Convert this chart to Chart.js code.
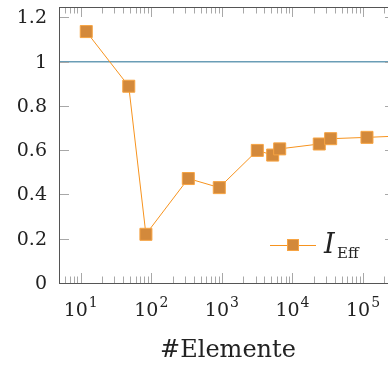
<!DOCTYPE html>
<html>
<head>
<meta charset="utf-8">
<script src="https://cdn.jsdelivr.net/npm/chart.js@4/dist/chart.umd.min.js"></script>
<style>
    html, body { margin: 0; padding: 0; background: #fff; overflow: hidden; }
    #wrap { width: 388px; height: 365px; }
</style>
</head>
<body>
<div id="wrap"><canvas id="myChart"></canvas></div>
<script>
//DATA
const elements = [12, 48, 84, 335, 920, 3180, 5250, 6600, 24000, 34800, 113800, 320000];
const iEff = [1.136, 0.889, 0.22, 0.472, 0.431, 0.599, 0.578, 0.606, 0.628, 0.652, 0.658, 0.664];
const refValue = 1;
const yTicks = [0, 0.2, 0.4, 0.6, 0.8, 1, 1.2];
const yTickLabels = ["0", "0.2", "0.4", "0.6", "0.8", "1", "1.2"];
const xDecades = [1, 2, 3, 4, 5];
const xMin = 4.93;
const xMax = 226000;
const yMin = 0;
const yMax = 1.247;
const seriesLabel = "I";
const seriesSub = "Eff";
const xTitle = "#Elemente";

const orangeLine = "#f7931e";
const markFill = "#d3893b";
const markBorder = "#f7a443";
const blueLine = "#6a9db6";

// axes, ticks and labels drawn pgfplots style (ticks point inwards)
const axesPlugin = {
    id: "axesPlugin",
    afterDatasetsDraw: (chart) => {
        const ctx = chart.ctx;
        const a = chart.chartArea;
        const xs = chart.scales.x;
        const ys = chart.scales.y;
        ctx.save();

        // tick marks
        ctx.strokeStyle = "#a8a8a8";
        ctx.lineWidth = 1;
        ctx.beginPath();
        for (let d = 0; d <= 5; d++) {
            for (let m = 1; m <= 9; m++) {
                const v = m * Math.pow(10, d);
                if (v < xMin || v > xMax) continue;
                const px = Math.round(xs.getPixelForValue(v)) + 0.5;
                const len = m === 1 ? 10 : 6.5;
                ctx.moveTo(px, a.bottom);
                ctx.lineTo(px, a.bottom - len);
                ctx.moveTo(px, a.top);
                ctx.lineTo(px, a.top + len);
            }
        }
        yTicks.forEach((t) => {
            const py = Math.round(ys.getPixelForValue(t)) + 0.5;
            ctx.moveTo(a.left, py);
            ctx.lineTo(a.left + 10, py);
            ctx.moveTo(a.right + 7, py);
            ctx.lineTo(a.right - 3, py);
        });
        ctx.stroke();

        // axis lines
        ctx.strokeStyle = "#555";
        ctx.beginPath();
        ctx.moveTo(a.left + 0.5, a.top);
        ctx.lineTo(a.left + 0.5, a.bottom);
        ctx.moveTo(a.left, Math.round(a.bottom) + 0.5);
        ctx.lineTo(a.right, Math.round(a.bottom) + 0.5);
        ctx.moveTo(a.left, Math.round(a.top) + 0.5);
        ctx.lineTo(a.right, Math.round(a.top) + 0.5);
        ctx.stroke();

        // y labels
        ctx.fillStyle = "#222";
        ctx.font = "19px 'DejaVu Serif'";
        ctx.textAlign = "right";
        ctx.textBaseline = "middle";
        yTicks.forEach((t, i) => {
            ctx.fillText(yTickLabels[i], a.left - 12, ys.getPixelForValue(t) + 1);
        });

        // x labels 10^n
        ctx.textAlign = "left";
        ctx.textBaseline = "alphabetic";
        xDecades.forEach((d) => {
            const px = xs.getPixelForValue(Math.pow(10, d));
            ctx.font = "19px 'DejaVu Serif'";
            const wb = ctx.measureText("10").width;
            ctx.font = "14px 'DejaVu Serif'";
            const we = ctx.measureText(String(d)).width;
            const x0 = px - (wb + we + 1) / 2;
            ctx.font = "19px 'DejaVu Serif'";
            ctx.fillText("10", x0, a.bottom + 33);
            ctx.font = "14px 'DejaVu Serif'";
            ctx.fillText(String(d), x0 + wb + 1, a.bottom + 24);
        });

        // x title
        ctx.font = "24px 'DejaVu Serif'";
        ctx.textAlign = "center";
        ctx.fillText(xTitle, 228, a.bottom + 74);

        // legend
        const ly = 245;
        ctx.strokeStyle = orangeLine;
        ctx.beginPath();
        ctx.moveTo(270, ly + 0.5);
        ctx.lineTo(316, ly + 0.5);
        ctx.stroke();
        ctx.fillStyle = markFill;
        ctx.strokeStyle = markBorder;
        ctx.fillRect(287, ly - 6, 12, 12);
        ctx.strokeRect(287.5, ly - 5.5, 11, 11);
        ctx.fillStyle = "#222";
        ctx.textAlign = "left";
        ctx.font = "italic 27px 'DejaVu Serif'";
        ctx.fillText(seriesLabel, 324, 253);
        ctx.font = "15px 'DejaVu Serif'";
        ctx.fillText(seriesSub, 337, 258);

        ctx.restore();
    }
};

const configline = {
    type: "line",
    data: {
        datasets: [
            {
                label: "ref",
                data: [{x: xMin, y: refValue}, {x: xMax, y: refValue}],
                borderColor: blueLine,
                borderWidth: 1.5,
                pointRadius: 0,
                order: 2
            },
            {
                label: seriesLabel + seriesSub,
                data: elements.map((e, i) => ({x: e, y: iEff[i]})),
                borderColor: orangeLine,
                borderWidth: 1,
                pointStyle: "rect",
                pointRadius: 8.5,
                pointBackgroundColor: markFill,
                pointBorderColor: markBorder,
                pointBorderWidth: 1,
                order: 1
            }
        ]
    },
    options: {
        responsive: true,
        maintainAspectRatio: false,
        animation: false,
        layout: {
            autoPadding: false,
            padding: {left: 59, top: 7, right: 0, bottom: 82}
        },
        plugins: {
            legend: {display: false},
            tooltip: {enabled: false}
        },
        scales: {
            x: {type: "logarithmic", min: xMin, max: xMax, display: false},
            y: {type: "linear", min: yMin, max: yMax, display: false}
        }
    },
    plugins: [axesPlugin]
};

var myChart = new Chart(document.querySelector("#myChart"), configline);
</script>
</body>
</html>
